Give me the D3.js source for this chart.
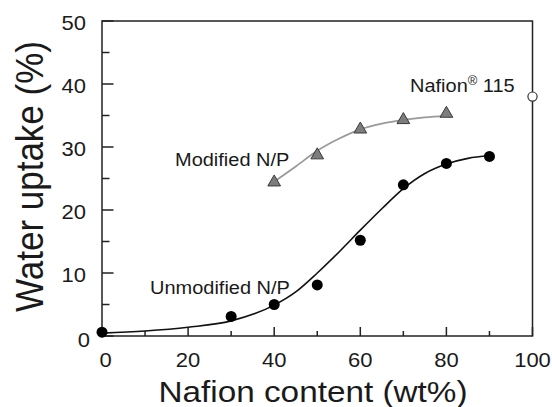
<!DOCTYPE html>
<html><head><meta charset="utf-8">
<script src="https://cdn.jsdelivr.net/npm/d3@7"></script>
<style>body{margin:0;background:#fff}svg{display:block}text{font-family:"Liberation Sans",Arial,sans-serif;fill:#1a1a1a}</style>
</head><body><svg id="c" width="552" height="407"></svg>
<script>
// ---- data ----
const unmodX = [0, 30, 40, 50, 60, 70, 80, 90];
const unmodY = [0.6, 3.1, 5.0, 8.1, 15.2, 24.0, 27.4, 28.5];
const unmodFitX = [0, 10, 20, 30, 40, 45, 50, 55, 60, 65, 70, 75, 80, 85, 90];
const unmodFitY = [0.45, 0.8, 1.4, 2.4, 4.9, 7.0, 10.0, 13.3, 16.8, 20.2, 23.4, 25.8, 27.3, 28.2, 28.6];
const modX = [40, 50, 60, 70, 80];
const modY = [24.4, 28.7, 32.8, 34.3, 35.3];
const modFitX = [40, 45, 50, 55, 60, 65, 70, 75, 80];
const modFitY = [24.5, 26.9, 29.4, 31.3, 32.8, 33.7, 34.3, 34.7, 34.95];
const nafionX = [100];
const nafionY = [38.0];
const xTicks = [0, 20, 40, 60, 80, 100];
const xMinor = [10, 30, 50, 70, 90];
const yTicks = [0, 10, 20, 30, 40, 50];
const yMinor = [5, 15, 25, 35, 45];
const xTitle = "Nafion content (wt%)";
const yTitle = "Water uptake (%)";

// ---- layout ----
const L = 102, R = 532.5, T = 21, B = 336;
const svg = d3.select("#c");
const x = d3.scaleLinear().domain([0, 100]).range([L, R]);
const y = d3.scaleLinear().domain([0, 50]).range([B, T]);
const SX = 1.1;

// inside ticks
const tk = svg.append("g");
function xt(vals, len) {
  vals.forEach(d => tk.append("line")
    .attr("x1", x(d)).attr("x2", x(d)).attr("y1", B).attr("y2", B - len)
    .style("stroke", "#222").style("stroke-width", "1.5px"));
}
function yt(vals, len) {
  vals.forEach(d => tk.append("line")
    .attr("y1", y(d)).attr("y2", y(d)).attr("x1", L).attr("x2", L + len)
    .style("stroke", "#222").style("stroke-width", "1.5px"));
}
xt(xTicks, 9); xt(xMinor, 5); yt(yTicks, 11.5); yt(yMinor, 7.5);

// frame
svg.append("rect").attr("x", L).attr("y", T).attr("width", R - L).attr("height", B - T)
  .style("fill", "none").style("stroke", "#222").style("stroke-width", "1.5px");

// tick labels
function label(px, py, txt, size, anchor, sx) {
  const g = svg.append("g").attr("transform", `translate(${px},${py}) scale(${sx},1)`);
  return g.append("text").attr("text-anchor", anchor).attr("font-size", size).text(txt);
}
xTicks.forEach(v => label(x(v) + (v === 0 ? 3.5 : 0), 367, v, 20, "middle", SX));
yTicks.forEach(v => label(v === 0 ? 90 : 86, y(v) + (v === 0 ? 11 : 9), v, 20, "end", SX));

// axis titles
label(313, 401.5, xTitle, 30, "middle", 1.11);
svg.append("g").attr("transform", `translate(43,176.5) scale(1.1,1) rotate(-90)`)
  .append("text").attr("text-anchor", "middle").attr("font-size", 35).text(yTitle);

// curves
const line = d3.line().x(d => x(d[0])).y(d => y(d[1])).curve(d3.curveMonotoneX);
svg.append("path").datum(modFitX.map((v, i) => [v, modFitY[i]]))
  .attr("d", line).style("fill", "none").style("stroke", "#9a9a9a").style("stroke-width", "1.8px");
svg.append("path").datum(unmodFitX.map((v, i) => [v, unmodFitY[i]]))
  .attr("d", line).style("fill", "none").style("stroke", "#111").style("stroke-width", "1.6px");

// markers
const tri = d3.symbol().type(d3.symbolTriangle).size(70);
svg.selectAll(".tri").data(modX.map((v, i) => [v, modY[i]])).join("path")
  .attr("transform", d => `translate(${x(d[0])},${y(d[1])})`)
  .attr("d", tri).style("fill", "#7d7d7d").style("stroke", "#3a3a3a").style("stroke-width", "1px");
svg.selectAll(".dot").data(unmodX.map((v, i) => [v, unmodY[i]])).join("circle")
  .attr("cx", d => x(d[0])).attr("cy", d => y(d[1])).attr("r", 5.5).style("fill", "#000");
svg.selectAll(".naf").data(nafionX.map((v, i) => [v, nafionY[i]])).join("circle")
  .attr("cx", d => x(d[0])).attr("cy", d => y(d[1])).attr("r", 4.6)
  .style("fill", "#fff").style("stroke", "#333").style("stroke-width", "1.2px");

// annotations
label(175, 165.5, "Modified N/P", 18.5, "start", 1.08);
label(150, 294, "Unmodified N/P", 18.5, "start", 1.08);
const nt = label(410, 91.5, "Nafion", 18.5, "start", 1.08);
nt.append("tspan").attr("dy", -7).attr("font-size", 12).text("®");
nt.append("tspan").attr("dy", 7).text(" 115");
</script></body></html>
